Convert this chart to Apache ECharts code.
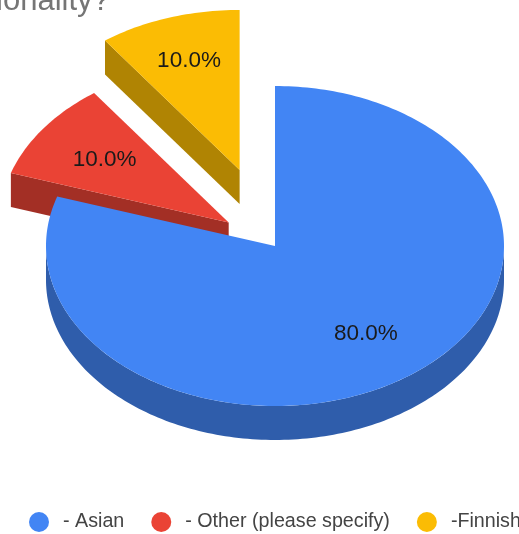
<!DOCTYPE html>
<html><head><meta charset="utf-8">
<style>html,body{margin:0;padding:0;background:#fff}#c{width:519px;height:534px}</style>
<script src="https://cdn.jsdelivr.net/npm/echarts@6/dist/echarts.min.js"></script>
</head><body><div id="c"></div>
<script>
const categories = ['- Asian', '- Other (please specify)', '-Finnish'];
const shares = [80, 10, 10];
const explode = [0, 0.25, 0.5];
const labelRadius = [0.675, 0.67, 0.715];
const topColors = ['#4285f4', '#ea4335', '#fbbc04'];
const sideColors = ['#2f5dab', '#a32f25', '#b08403'];
const titleText = 'nationality?';

const cx = 275, cy = 246, rx = 229, ry = 160, depth = 34;
const total = shares.reduce((a, b) => a + b, 0);
const pt = (ox, oy, a, k = 1) => [ox + rx * k * Math.sin(a), oy - ry * k * Math.cos(a)];

function arcPts(ox, oy, a0, a1) {
  const n = Math.max(8, Math.ceil((a1 - a0) / 0.02));
  const out = [];
  for (let i = 0; i <= n; i++) out.push(pt(ox, oy, a0 + (a1 - a0) * i / n));
  return out;
}

function makeRender(idx) {
  return function (params, api) {
    const v = api.value(0);
    let before = 0;
    for (let i = 0; i < idx; i++) before += shares[i];
    const a0 = before / total * 2 * Math.PI;
    const a1 = (before + v) / total * 2 * Math.PI;
    const mid = (a0 + a1) / 2;
    const [ox, oy] = pt(cx, cy, mid, explode[idx]);
    const children = [];
    const side = { fill: sideColors[idx] };
    const poly = (points, style) => children.push({ type: 'polygon', shape: { points }, style, silent: true });
    // visible outer wall: the part of the rim on the front half (PI/2 .. 3PI/2)
    const f0 = Math.max(a0, Math.PI / 2), f1 = Math.min(a1, 1.5 * Math.PI);
    if (f1 > f0) {
      const rim = arcPts(ox, oy, f0, f1);
      poly(rim.concat(rim.slice().reverse().map(p => [p[0], p[1] + depth])), side);
    }
    // cut wall facing the viewer on the exploded slices
    if (idx > 0) {
      const e = pt(ox, oy, a0);
      poly([[ox, oy], e, [e[0], e[1] + depth], [ox, oy + depth]], side);
    }
    // top face
    poly([[ox, oy]].concat(arcPts(ox, oy, a0, a1)), { fill: topColors[idx] });
    // percentage label
    const lp = pt(ox, oy, mid, labelRadius[idx]);
    children.push({
      type: 'text', silent: true,
      style: {
        x: lp[0], y: lp[1], text: (v / total * 100).toFixed(1) + '%',
        fill: '#1a1a1a', font: '22.5px "Liberation Sans", Arial, sans-serif',
        align: 'center', verticalAlign: 'middle'
      }
    });
    return { type: 'group', children };
  };
}

// paint order: farthest slice first
const order = [2, 1, 0];
const series = order.map(i => ({
  type: 'custom', name: categories[i], coordinateSystem: 'none',
  z: 2 + (2 - i), itemStyle: { color: topColors[i] },
  renderItem: makeRender(i), data: [[shares[i]]], animation: false, silent: true
}));

const chart = echarts.init(document.getElementById('c'), null, { renderer: 'canvas' });
chart.setOption({
  animation: false,
  backgroundColor: '#fff',
  title: {
    text: titleText, left: -52, top: -19,
    textStyle: { color: '#757575', fontWeight: 'normal', fontSize: 31, fontFamily: '"Liberation Sans", Arial, sans-serif' }
  },
  legend: {
    data: categories, left: 29, top: 512, width: 700, icon: 'circle', itemWidth: 38, itemHeight: 20,
    itemGap: 27, selectedMode: false,
    textStyle: { color: '#444', fontSize: 19.7, fontFamily: '"Liberation Sans", Arial, sans-serif' },
    padding: 0
  },
  series
});
</script></body></html>
